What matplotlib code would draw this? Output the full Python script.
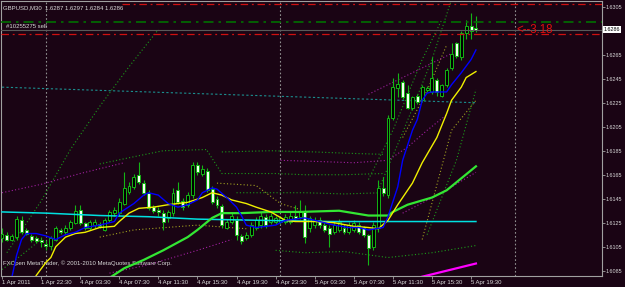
import numpy as np
import matplotlib.pyplot as plt
from matplotlib.patches import Rectangle

# GBPUSD M30 candles (bar index 0..97)
o = [1.6112, 1.6115, 1.6111, 1.6113, 1.6127, 1.6119, 1.6114, 1.6112, 1.6111, 1.6107,
     1.6106, 1.6111, 1.6119, 1.6117, 1.6121, 1.6125, 1.6136, 1.6125, 1.6121, 1.6123,
     1.6124, 1.6119, 1.6127, 1.6133, 1.6133, 1.6141, 1.6151, 1.6155, 1.6165, 1.6158,
     1.6150, 1.6138, 1.6136, 1.6133, 1.6129, 1.6133, 1.6152, 1.6143, 1.6140, 1.6148,
     1.6173, 1.6166, 1.6168, 1.6153, 1.6145, 1.6139, 1.6121, 1.6126, 1.6127, 1.6114,
     1.6112, 1.6115, 1.6121, 1.6123, 1.6130, 1.6126, 1.6126, 1.6126, 1.6126, 1.6126,
     1.6131, 1.6130, 1.6134, 1.6121, 1.6123, 1.6127, 1.6123, 1.6121, 1.6117, 1.6119,
     1.6121, 1.6117, 1.6119, 1.6123, 1.6121, 1.6115, 1.6105, 1.6121, 1.6154, 1.6148,
     1.6212, 1.6237, 1.6242, 1.6233, 1.6221, 1.6231, 1.6227, 1.6236, 1.6234, 1.6244,
     1.6231, 1.6240, 1.6254, 1.6275, 1.6263, 1.6283, 1.6289, 1.6287]
h = [1.6121, 1.6117, 1.6116, 1.6131, 1.6131, 1.6121, 1.6116, 1.6114, 1.6113, 1.6111,
     1.6114, 1.6122, 1.6121, 1.6123, 1.6127, 1.6140, 1.6140, 1.6126, 1.6127, 1.6128,
     1.6126, 1.6129, 1.6136, 1.6138, 1.6146, 1.6167, 1.6159, 1.6166, 1.6176, 1.6161,
     1.6152, 1.6140, 1.6138, 1.6136, 1.6136, 1.6154, 1.6159, 1.6146, 1.6151, 1.6176,
     1.6176, 1.6173, 1.6171, 1.6156, 1.6147, 1.6141, 1.6128, 1.6134, 1.6131, 1.6116,
     1.6117, 1.6126, 1.6130, 1.6134, 1.6132, 1.6133, 1.6131, 1.6131, 1.6132, 1.6134,
     1.6140, 1.6144, 1.6140, 1.6131, 1.6130, 1.6130, 1.6126, 1.6123, 1.6126, 1.6128,
     1.6124, 1.6126, 1.6127, 1.6126, 1.6122, 1.6116, 1.6126, 1.6161, 1.6163, 1.6215,
     1.6246, 1.6250, 1.6244, 1.6240, 1.6231, 1.6232, 1.6240, 1.6239, 1.6263, 1.6246,
     1.6241, 1.6254, 1.6275, 1.6276, 1.6285, 1.6294, 1.6300, 1.6297]
l = [1.6109, 1.6110, 1.6110, 1.6111, 1.6116, 1.6115, 1.6109, 1.6108, 1.6105, 1.6102,
     1.6102, 1.6110, 1.6116, 1.6116, 1.6119, 1.6124, 1.6123, 1.6119, 1.6119, 1.6121,
     1.6121, 1.6118, 1.6126, 1.6131, 1.6131, 1.6140, 1.6149, 1.6153, 1.6157, 1.6148,
     1.6136, 1.6133, 1.6131, 1.6119, 1.6126, 1.6131, 1.6141, 1.6136, 1.6138, 1.6146,
     1.6165, 1.6164, 1.6151, 1.6141, 1.6137, 1.6121, 1.6120, 1.6124, 1.6111, 1.6107,
     1.6111, 1.6113, 1.6119, 1.6121, 1.6121, 1.6124, 1.6124, 1.6124, 1.6124, 1.6124,
     1.6127, 1.6128, 1.6108, 1.6117, 1.6121, 1.6121, 1.6117, 1.6105, 1.6116, 1.6117,
     1.6116, 1.6116, 1.6117, 1.6116, 1.6113, 1.6090, 1.6102, 1.6117, 1.6147, 1.6146,
     1.6211, 1.6230, 1.6228, 1.6220, 1.6219, 1.6224, 1.6226, 1.6234, 1.6232, 1.6231,
     1.6230, 1.6238, 1.6252, 1.6262, 1.6261, 1.6278, 1.6278, 1.6284]
c = [1.6116, 1.6111, 1.6114, 1.6128, 1.6117, 1.6116, 1.6111, 1.6110, 1.6109, 1.6106,
     1.6112, 1.6121, 1.6117, 1.6121, 1.6126, 1.6135, 1.6125, 1.6121, 1.6126, 1.6126,
     1.6122, 1.6127, 1.6134, 1.6136, 1.6142, 1.6154, 1.6156, 1.6163, 1.6159, 1.6150,
     1.6137, 1.6135, 1.6134, 1.6126, 1.6134, 1.6150, 1.6142, 1.6138, 1.6148, 1.6173,
     1.6167, 1.6170, 1.6152, 1.6142, 1.6140, 1.6123, 1.6126, 1.6131, 1.6115, 1.6110,
     1.6115, 1.6123, 1.6127, 1.6131, 1.6123, 1.6131, 1.6129, 1.6129, 1.6130, 1.6131,
     1.6129, 1.6134, 1.6113, 1.6129, 1.6127, 1.6123, 1.6119, 1.6116, 1.6123, 1.6126,
     1.6117, 1.6123, 1.6125, 1.6117, 1.6115, 1.6104, 1.6123, 1.6154, 1.6150, 1.6212,
     1.6238, 1.6241, 1.6230, 1.6221, 1.6230, 1.6226, 1.6238, 1.6237, 1.6246, 1.6234,
     1.6240, 1.6252, 1.6266, 1.6264, 1.6283, 1.6289, 1.6285, 1.6286]

# indicator lines, (bar index, price)
blue_x = [2, 3, 4, 5, 7, 9, 11, 13, 15, 17, 20, 23, 24, 27, 29, 30, 32, 34, 36, 38, 40, 41, 43, 44,
          46, 48, 49, 50, 52, 56, 58, 62, 65, 68, 71, 73, 75, 78, 79, 81, 82, 84, 85, 86, 87,
          88, 91, 92, 94, 96, 97]
blue_y = [1.6079, 1.6098, 1.6111, 1.6116, 1.6116, 1.6114, 1.6111, 1.6115, 1.6117, 1.6121,
          1.6123, 1.6126, 1.6133, 1.6141, 1.6148, 1.6150, 1.6148, 1.6141, 1.6138, 1.6140,
          1.6144, 1.6150, 1.6154, 1.6153, 1.6146, 1.6138, 1.6131, 1.6123, 1.6121, 1.6123,
          1.6127, 1.6129, 1.6126, 1.6123, 1.6121, 1.6121, 1.6119, 1.6121, 1.6130, 1.6155,
          1.6177, 1.6202, 1.6211, 1.6227, 1.6233, 1.6234, 1.6234, 1.6240, 1.6250, 1.6261, 1.6269]
yellow_x = [7, 9, 10, 11, 13, 15, 17, 20, 23, 24, 26, 28, 31, 34, 38, 41, 43, 45, 47, 50, 52,
            55, 58, 60, 64, 68, 72, 75, 77, 79, 81, 84, 86, 89, 91, 92, 94, 95, 97]
yellow_y = [1.6081, 1.6092, 1.6096, 1.6105, 1.6113, 1.6116, 1.6117, 1.6121, 1.6122, 1.6126,
            1.6133, 1.6137, 1.6138, 1.6140, 1.6142, 1.6146, 1.6150, 1.6148, 1.6144, 1.6141,
            1.6138, 1.6134, 1.6127, 1.6126, 1.6126, 1.6125, 1.6122, 1.6121, 1.6120, 1.6127,
            1.6140, 1.6158, 1.6175, 1.6196, 1.6216, 1.6227, 1.6238, 1.6246, 1.6251]
lime_x = [22, 25, 29, 33, 38, 40, 43, 45, 49, 55, 61, 69, 75, 79, 80, 83, 88, 91, 94, 97]
lime_y = [1.6079, 1.6087, 1.6094, 1.6102, 1.6113, 1.6119, 1.6129, 1.6133, 1.6133, 1.6134,
          1.6134, 1.6135, 1.6131, 1.6131, 1.6134, 1.6140, 1.6146, 1.6152, 1.6162, 1.6172]
cyan_x = [0, 9, 20, 30, 40, 53, 67, 81, 97]
cyan_y = [1.6134, 1.6133, 1.6131, 1.6130, 1.6128, 1.6127, 1.6126, 1.6126, 1.6126]
teal_x = [0, 97]
teal_y = [1.6238, 1.6225]
magenta_x = [86, 92, 97]
magenta_y = [1.6080, 1.6086, 1.6091]

# dotted envelopes
dots_green = [
    ([1, 8, 14, 20, 26, 32], [1.6100, 1.6143, 1.6186, 1.6222, 1.6255, 1.6286]),
    ([0, 4, 8], [1.6086, 1.6098, 1.6111]),
    ([20, 27, 33, 42], [1.6174, 1.6180, 1.6185, 1.6186]),
    ([42, 45, 50, 56, 62, 70, 78], [1.6185, 1.6166, 1.6166, 1.6166, 1.6165, 1.6165, 1.6166]),
    ([48, 55, 62, 70, 78], [1.6150, 1.6150, 1.6150, 1.6149, 1.6150]),
    ([45, 55, 64, 70, 78], [1.6184, 1.6185, 1.6184, 1.6183, 1.6182]),
    ([56, 62, 70, 79, 88, 97], [1.6102, 1.6100, 1.6101, 1.6096, 1.6100, 1.6106]),
    ([77, 82, 88, 92], [1.6152, 1.6200, 1.6261, 1.6311]),
    ([75, 80, 86, 90], [1.6161, 1.6202, 1.6261, 1.6294]),
    ([87, 93, 97], [1.6115, 1.6177, 1.6236]),
]
dots_yellow = [
    ([20, 27, 40, 50], [1.6113, 1.6119, 1.6123, 1.6120]),
    ([44, 52, 57, 61], [1.6158, 1.6156, 1.6141, 1.6136]),
    ([82, 87, 91], [1.6196, 1.6235, 1.6273]),
    ([86, 92, 97], [1.6111, 1.6202, 1.6227]),
]
dots_magenta = [
    ([0, 8, 16, 25], [1.6150, 1.6157, 1.6166, 1.6175]),
    ([22, 30, 40, 47], [1.6083, 1.6090, 1.6102, 1.6111]),
    ([57, 65, 72, 79, 83, 87, 91], [1.6177, 1.6176, 1.6175, 1.6177, 1.6188, 1.6202, 1.6215]),
    ([75, 88, 92], [1.6232, 1.6258, 1.6266]),
    ([82, 90, 97], [1.6133, 1.6150, 1.6167]),
]

labels_x = [0, 8, 16, 24, 32, 40, 48, 56, 64, 72, 80, 88, 96]
labels_txt = ["1 Apr 2011", "1 Apr 22:30", "4 Apr 03:30", "4 Apr 07:30", "4 Apr 11:30",
              "4 Apr 15:30", "4 Apr 19:30", "4 Apr 23:30", "5 Apr 03:30", "5 Apr 07:30",
              "5 Apr 11:30", "5 Apr 15:30", "5 Apr 19:30"]
price_ticks = [1.6305, 1.6265, 1.6245, 1.6225, 1.6205, 1.6185, 1.6165, 1.6145, 1.6125,
               1.6105, 1.6085]
separators = [9, 57, 105]
bid = 1.6286
order_price = 1.6292
tp_price = 1.6307
sl_price = 1.6282

bg = '#1a0414'
fnt = 'Liberation Sans'

fig = plt.figure(figsize=(6.25, 2.87), dpi=100, facecolor=bg)
ax = fig.add_axes([1/625, 11/287, 601/625, 275/287], facecolor=bg)
ax.set_xlim(-0.2, 122.8)
ax.set_ylim(1.60806, 1.63098)

# period separators
for s in separators:
    ax.axvline(s, color='#909090', lw=0.8, ls=(0, (1.5, 2)), zorder=1)

for xs, ys in dots_green:
    ax.plot(xs, ys, color='#1a9a1a', lw=0.8, ls=(0, (1, 2)), zorder=2)
for xs, ys in dots_yellow:
    ax.plot(xs, ys, color='#a0a020', lw=0.8, ls=(0, (1, 2)), zorder=2)
for xs, ys in dots_magenta:
    ax.plot(xs, ys, color='#a020a0', lw=0.8, ls=(0, (1, 2)), zorder=2)
ax.plot(teal_x, teal_y, color='#1a8f8f', lw=0.8, ls=(0, (2, 2)), zorder=2)

# candles
for i in range(len(o)):
    ax.vlines(i, l[i], h[i], color='#14b414', lw=0.8, zorder=3)
    lo, hi = min(o[i], c[i]), max(o[i], c[i])
    face = '#000000' if c[i] >= o[i] else '#f4fff0'
    ax.add_patch(Rectangle((i - 0.3, lo), 0.6, max(hi - lo, 0.00005),
                           facecolor=face, edgecolor='#14b414', lw=0.7, zorder=4))

ax.plot(cyan_x, cyan_y, color='#00e0e0', lw=1.1, zorder=5)
ax.plot(lime_x, lime_y, color='#33e633', lw=1.6, zorder=5)
ax.plot(yellow_x, yellow_y, color='#f0f000', lw=1.0, zorder=6)
ax.plot(blue_x, blue_y, color='#0000ff', lw=1.0, zorder=6)
ax.plot(magenta_x, magenta_y, color='#ff00ff', lw=1.6, zorder=6)

# order lines
ax.hlines(tp_price, 24.6, 122.8, color='#d01010', lw=0.9, ls=(0, (6, 3, 1.5, 3)), zorder=7)
ax.axhline(order_price, color='#007000', lw=1.2, ls=(0, (6, 3, 1.5, 3)), zorder=7)
ax.axhline(bid, color='#5a5a5a', lw=0.8, zorder=7)
ax.axhline(sl_price, color='#d01010', lw=0.9, ls=(0, (6, 3, 1.5, 3)), zorder=7)
ax.text(105.2, bid - 0.00005, "<--3.18", color='#e01010', fontsize=8.3, family=fnt,
        va='center', ha='left', zorder=8)

ax.text(0.004, 0.985, "GBPUSD,M30  1.6287 1.6297 1.6284 1.6286", transform=ax.transAxes,
        color='#d8d8d8', fontsize=4.3, family=fnt, va='top', ha='left')
ax.text(0.008, 0.915, "#10255275 sell", transform=ax.transAxes,
        color='#d8d8d8', fontsize=4.3, family=fnt, va='top', ha='left')
ax.text(0.004, 0.035, "FXOpen MetaTrader, \u00a9 2001-2010 MetaQuotes Software Corp.",
        transform=ax.transAxes, color='#d8d8d8', fontsize=4.3, family=fnt,
        va='bottom', ha='left')

# axes
for sp in ax.spines.values():
    sp.set_color('#a0a0a0')
    sp.set_linewidth(0.8)
ax.yaxis.tick_right()
ax.set_yticks(price_ticks)
ax.set_yticklabels(["%.4f" % p for p in price_ticks])
ax.set_xticks(labels_x)
ax.set_xticklabels(labels_txt, ha='left')
ax.tick_params(colors='#a0a0a0', labelcolor='#d8d8d8', labelsize=4.3, length=2,
               width=0.6, pad=1)
ax.tick_params(axis='y', labelsize=3.9, pad=0.8)
for t in ax.get_xticklabels() + ax.get_yticklabels():
    t.set_family(fnt)
ax.text(1.003, bid, "%.4f" % bid, transform=ax.get_yaxis_transform(), color='#000000',
        fontsize=3.9, family=fnt, va='center', ha='left',
        bbox=dict(facecolor='white', edgecolor='none', pad=0.5))

fig.savefig('out.png', dpi=100, facecolor=bg)
